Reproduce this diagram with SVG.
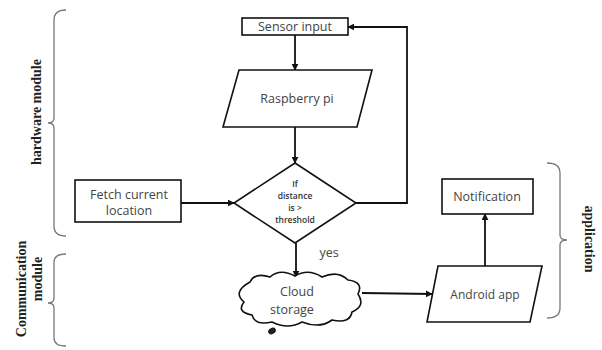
<svg xmlns="http://www.w3.org/2000/svg" width="602" height="350" viewBox="0 0 602 350">
<defs>
<marker id="ah" viewBox="0 0 10 10" refX="9" refY="5" markerWidth="7" markerHeight="7" orient="auto" markerUnits="userSpaceOnUse">
<path d="M0,0 L10,5 L0,10 Z" fill="#111"/>
</marker>
</defs>
<style>
.shape{fill:#fff;stroke:#111;stroke-width:1.6}
.t{font-family:"Open Sans","Liberation Sans",sans-serif;font-size:12.5px;fill:#444;text-anchor:middle}
.ts{font-family:"Open Sans","Liberation Sans",sans-serif;font-size:8.5px;fill:#333;text-anchor:middle;font-weight:600}
.lbl{font-family:"Liberation Serif","DejaVu Serif",serif;font-size:14px;font-weight:bold;fill:#222;text-anchor:middle}
.brace{fill:none;stroke:#777;stroke-width:1.3}
.conn{fill:none;stroke:#111;stroke-width:1.8}
</style>
<rect width="602" height="350" fill="#fff"/>
<g id="braces">
<path class="brace" d="M66,10 Q54,10 54,20 L54,118 Q54,123 48,123 Q54,123 54,128 L54,226 Q54,236 66,236"/>
<path class="brace" d="M66,254 Q54,254 54,262 L54,298 Q54,303 48,303 Q54,303 54,308 L54,338 Q54,346 66,346"/>
<path class="brace" d="M547,163 Q560,163 560,173 L560,235 Q560,240 567,240 Q560,240 560,245 L560,308 Q560,318 547,318"/>
<text class="lbl" transform="translate(41,112) rotate(-90)">hardware module</text>
<text class="lbl" transform="translate(26,289) rotate(-90)">Communication</text>
<text class="lbl" transform="translate(42,279) rotate(-90)">module</text>
<text class="lbl" transform="translate(585,239) rotate(90)">application</text>
</g>
<g id="connectors">
<line class="conn" x1="295" y1="35" x2="295" y2="70" marker-end="url(#ah)"/>
<line class="conn" x1="295" y1="127" x2="295" y2="163" marker-end="url(#ah)"/>
<polyline class="conn" points="356,203 407,203 407,27 348,27" marker-end="url(#ah)"/>
<line class="conn" x1="181" y1="203" x2="234" y2="203" marker-end="url(#ah)"/>
<line class="conn" x1="296" y1="243" x2="296" y2="277" marker-end="url(#ah)"/>
<line class="conn" x1="362" y1="293" x2="432" y2="294" marker-end="url(#ah)"/>
<line class="conn" x1="485" y1="266" x2="485" y2="214" marker-end="url(#ah)"/>
<text class="t" x="329" y="257">yes</text>
</g>
<g id="sensor">
<rect class="shape" x="242" y="18" width="106" height="17"/>
<text class="t" x="295" y="31">Sensor input</text>
</g>
<g id="raspberry">
<polygon class="shape" points="239,70 372,70 357,127 223,127"/>
<text class="t" x="297" y="103">Raspberry pi</text>
</g>
<g id="decision">
<polygon class="shape" points="295,163 356,203 295,243 234,203"/>
<text class="ts" x="295" y="187">If</text>
<text class="ts" x="295" y="199">distance</text>
<text class="ts" x="295" y="211">is &gt;</text>
<text class="ts" x="295" y="223">threshold</text>
</g>
<g id="fetch">
<rect class="shape" x="75" y="180" width="106" height="42"/>
<text class="t" x="129" y="199">Fetch current</text>
<text class="t" x="129" y="215">location</text>
</g>
<g id="cloud">
<path class="shape" d="M250,282 Q255,272 270,277 Q280,268 295,276 Q308,268 322,277 Q338,270 348,280 Q364,282 358,294 Q366,306 352,312 Q350,324 332,320 Q320,329 302,322 Q288,330 272,322 Q255,326 252,315 Q236,312 244,302 Q232,292 250,282 Z"/>
<ellipse cx="272" cy="331" rx="3.5" ry="2.5" transform="rotate(-30 272 331)" fill="#222" stroke="#111" stroke-width="1"/>
<text class="t" x="297" y="296" fill="#555">Cloud</text>
<text class="t" x="292" y="314" fill="#555">storage</text>
</g>
<g id="android">
<polygon class="shape" points="438,266 542,266 530,322 427,322"/>
<text class="t" x="485" y="299" style="font-size:12px">Android app</text>
</g>
<g id="notification">
<rect class="shape" x="442" y="179" width="91" height="35"/>
<text class="t" x="487" y="201">Notification</text>
</g>
</svg>
